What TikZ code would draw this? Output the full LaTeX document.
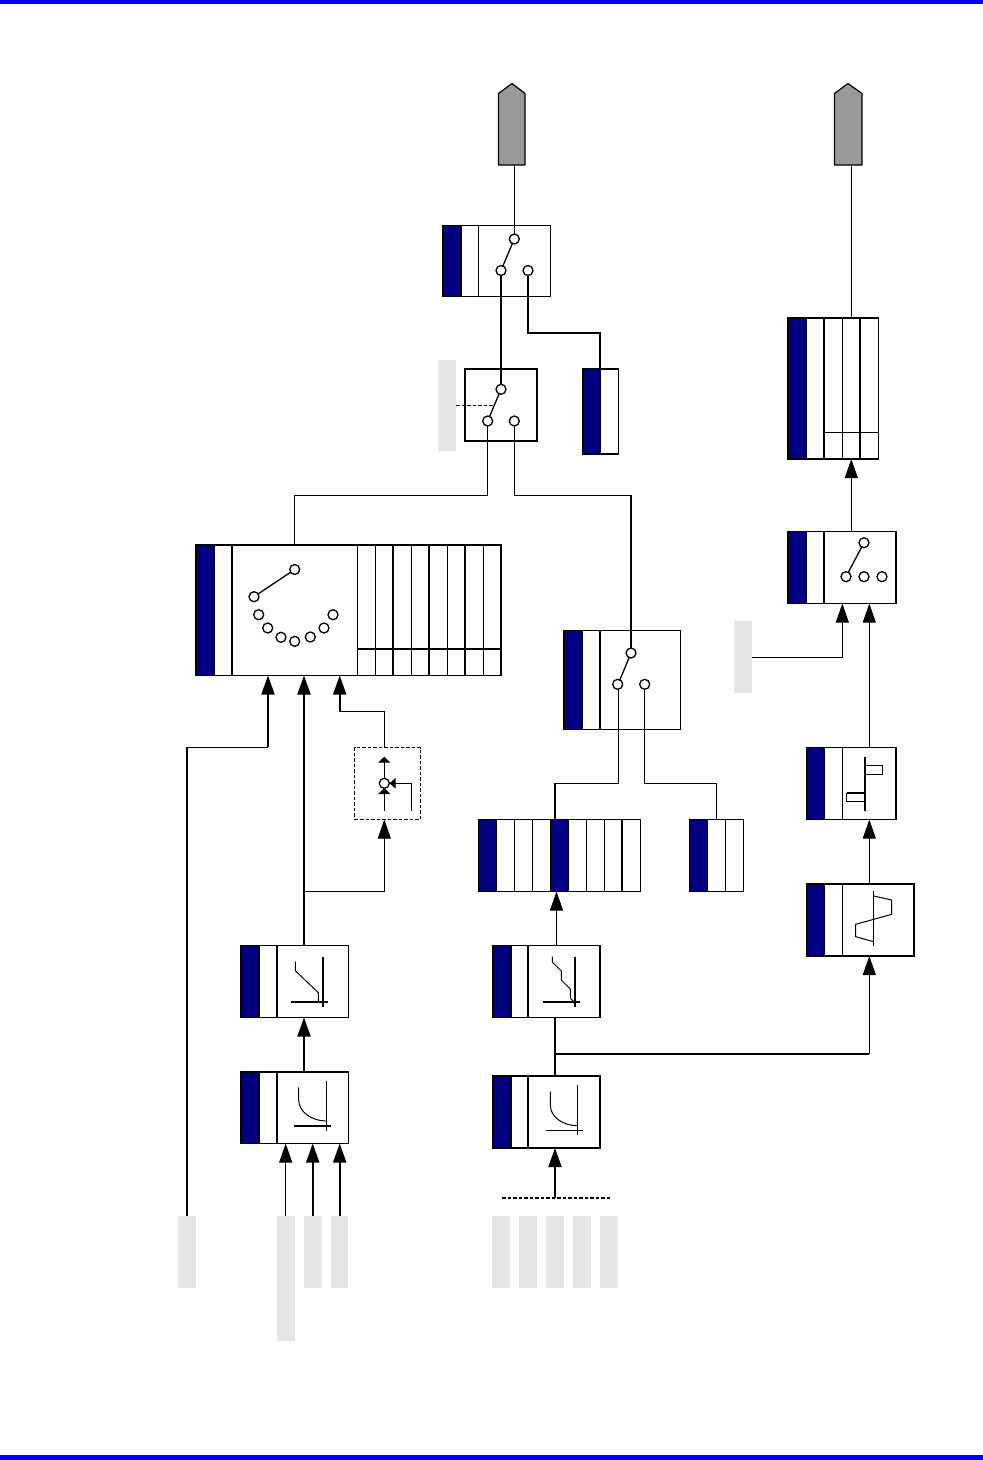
\documentclass[tikz,border=0pt]{standalone}
\usetikzlibrary{arrows.meta,calc}
\definecolor{navyb}{HTML}{000080}
\definecolor{barb}{HTML}{0000FF}
\definecolor{greyb}{HTML}{E6E6E6}
\definecolor{pent}{HTML}{999999}
\tikzset{
  thn/.style={line width=1pt,draw=black},
  med/.style={line width=1.3pt,draw=black},
  thk/.style={line width=1.9pt,draw=black},
  boxn/.style={rectangle,draw=black,line width=1.3pt,fill=white,inner sep=0pt,outer sep=0pt},
  bluen/.style={rectangle,draw=black,line width=1.3pt,fill=navyb,inner sep=0pt,outer sep=0pt},
  greyn/.style={rectangle,fill=greyb,inner sep=0pt,outer sep=0pt},
  term/.style={circle,draw=black,line width=1.3pt,fill=white,inner sep=0pt,outer sep=0pt,minimum size=10pt},
  big/.style={-{Triangle[length=19pt,width=13pt]}},
  small/.style={-{Triangle[length=6pt,width=12pt]}},
}
\newcommand{\BX}[6][boxn]{\node[#1,minimum width={(#5-#3)*1pt},minimum height={(#6-#4)*1pt}] (#2) at ({(#3+#5)/2},{(#4+#6)/2}) {};}
\newcommand{\DV}[4][thn]{\draw[#1] (#2,#3) -- (#2,#4);}
\begin{document}
\begin{tikzpicture}[x=1pt,y=-1pt]
\useasboundingbox (0,0) rectangle (983,1460);
% page bars
\fill[barb] (0,0) rectangle (983,4);
\fill[barb] (0,1455) rectangle (983,1460);
% grey input tags
\BX[greyn]{gA}{438}{360}{456}{451}
\BX[greyn]{gB}{734}{621}{752}{693}
\BX[greyn]{gC}{178}{1216}{196}{1288}
\BX[greyn]{gD}{277}{1216}{295}{1341}
\BX[greyn]{gE}{304}{1216}{322}{1288}
\BX[greyn]{gF}{331}{1216}{348}{1288}
\BX[greyn]{gG}{492}{1216}{510}{1288}
\BX[greyn]{gH}{519}{1216}{537}{1288}
\BX[greyn]{gI}{546}{1216}{564}{1288}
\BX[greyn]{gJ}{573}{1216}{591}{1288}
\BX[greyn]{gK}{600}{1216}{618}{1288}
% pentagons
\draw[line width=1.2pt,fill=pent,line join=round] (498.5,93.5) -- (512,83.5) -- (525,93.5) -- (525,165) -- (498.5,165) -- cycle;
\draw[line width=1.2pt,fill=pent,line join=round] (834.5,93.5) -- (848,83.5) -- (862,93.5) -- (862,165) -- (834.5,165) -- cycle;
\coordinate (pA) at (512,165);
\coordinate (pB) at (848,165);
% boxes
\BX{swA}{443}{225.5}{550.5}{296.5}
\BX[bluen]{swAb}{443}{225.5}{461}{296.5}
\DV{478.7}{225.5}{296.5}
\BX{swB}{465}{369}{537}{441}
\BX{stA}{583}{369}{618.5}{454}
\BX[bluen]{stAb}{583}{369}{600}{454}
\BX{bigB}{196}{545}{501}{675.5}
\BX[bluen]{bigBb}{196}{545}{214.5}{675.5}
\DV[thk]{232}{545}{675.5}
\DV{357.3}{545}{675.5}
\DV{375.3}{545}{675.5}
\DV[thk]{393.3}{545}{675.5}
\DV{411.5}{545}{675.5}
\DV[thk]{429.3}{545}{675.5}
\DV{447.3}{545}{675.5}
\DV[thk]{465.3}{545}{675.5}
\DV{483.3}{545}{675.5}
\draw[thk] (357.3,648.7) -- (501,648.7);
\BX{swC}{564}{630.5}{680.5}{729.5}
\BX[bluen]{swCb}{564}{630.5}{582.5}{729.5}
\DV[thk]{599.7}{630.5}{729.5}
\BX{rowA}{478.5}{819.5}{640.5}{891.5}
\BX[bluen]{rowAb}{478.5}{819.5}{496.5}{891.5}
\DV{514.7}{819.5}{891.5}
\DV{532.7}{819.5}{891.5}
\BX[bluen]{rowAc}{550.7}{819.5}{568.7}{891.5}
\DV{586.7}{819.5}{891.5}
\DV{604.7}{819.5}{891.5}
\DV[thk]{622.3}{819.5}{891.5}
\BX{rowB}{689.5}{819.5}{743.5}{891.5}
\BX[bluen]{rowBb}{689.5}{819.5}{707.5}{891.5}
\DV{725.7}{819.5}{891.5}
\BX{tabB}{788}{318}{878.5}{459}
\BX[bluen]{tabBb}{788}{318}{806.5}{459}
\DV[thk]{824}{318}{459}
\DV{842.3}{318}{459}
\DV[thk]{860}{318}{459}
\draw[thn] (824,432.3) -- (878.5,432.3);
\BX{swD}{788}{531.5}{896}{603.5}
\BX[bluen]{swDb}{788}{531.5}{806.5}{603.5}
\DV[thk]{824}{531.5}{603.5}
\BX{hyA}{806.5}{747.5}{896}{819.5}
\BX[bluen]{hyAb}{806.5}{747.5}{824.5}{819.5}
\DV{842.3}{747.5}{819.5}
\BX{hyB}{806.5}{884}{914}{956}
\BX[bluen]{hyBb}{806.5}{884}{824.5}{956}
\DV{842.3}{884}{956}
\BX{crA}{241}{945.5}{348.5}{1017.5}
\BX[bluen]{crAb}{241}{945.5}{259}{1017.5}
\DV[thk]{277}{945.5}{1017.5}
\BX{crB}{241}{1072}{348.5}{1143.5}
\BX[bluen]{crBb}{241}{1072}{259}{1143.5}
\DV[thk]{277}{1072}{1143.5}
\BX{crC}{493}{945.5}{600}{1017.5}
\BX[bluen]{crCb}{493}{945.5}{511}{1017.5}
\DV[thk]{527.7}{945.5}{1017.5}
\BX{crD}{493}{1076}{600}{1148}
\BX[bluen]{crDb}{493}{1076}{511}{1148}
\DV[thk]{527.7}{1076}{1148}
\BX[rectangle,draw=black,line width=1.1pt,dash pattern=on 3.5pt off 2pt,fill=white,inner sep=0pt,outer sep=0pt]{dsh}{354.7}{747.5}{420.5}{819.5}
% connectors (under the terminals)
\coordinate (swAt) at (514.3,239);
\coordinate (swAl) at (501,270.5);
\coordinate (swAr) at (528,270.5);
\coordinate (swBt) at (501,389.3);
\coordinate (swBl) at (487.7,421);
\coordinate (swBr) at (514.3,421);
\coordinate (swCt) at (631,653);
\coordinate (swCl) at (618,684.3);
\coordinate (swCr) at (644.7,684.3);
\coordinate (swDt) at (864,542.7);
\coordinate (swDl) at (846,576.7);
\coordinate (swDm) at (864,576.7);
\coordinate (swDr) at (882,576.7);
\coordinate (bgT) at (294.7,569.5);
\coordinate (bgA) at (254,596.7);
\coordinate (dsc) at (384.3,783.3);
\coordinate (busA) at (304,891);
\coordinate (busB) at (555,1054);
\coordinate (busC) at (555,1197.7);
\draw[thn] (swAt |- pA) -- (swAt);
\draw[thk] (swAl) -- (swBt);
\draw[thk] (swAr) |- (600,333) -- (stA.north -| 600,333);
\draw[thn] (swBl) |- (294.7,495) -- (bigB.north -| 294.7,495);
\draw[thn] (swBr) |- (631,495);
\draw[thk] (631,495) -- (swCt);
\draw[thn,dash pattern=on 3.5pt off 2pt] (gA.east |- 0,405) -- (494,405);
\draw[thn] (swCl) |- (555,783.3);
\draw[thk] (555,783.3) -- (rowA.north -| 555,783.3);
\draw[thn] (swCr) |- (716.7,783.3) -- (rowB.north -| 716.7,783.3);
\draw[thn] (851.3,165) -- (tabB.north -| 851.3,165);
\draw[thn,big] (swD.north -| 851.3,500) -- (tabB.south -| 851.3,500);
\draw[thk] (gC.north) -- (187,747.3);
\draw[med] (187,747.3) -- (268,747.3);
\draw[thk,big] (268,747.3) -- (bigB.south -| 268,747.3);
\draw[thk,big] (crA.north -| busA) -- (bigB.south -| busA);
\draw[thn] (dsh.north -| dsc) |- (339.7,711.7);
\draw[thk,big] (339.7,711.7) -- (bigB.south -| 339.7,711.7);
\draw[thn] (busA) -| (dsc |- 0,850);
\draw[thn,big] (dsc |- 0,891) -- (dsh.south -| dsc);
\draw[thk,big] (crB.north -| busA) -- (crA.south -| busA);
\draw[thn,big] (gD.north -| 285.7,0) -- (crB.south -| 285.7,0);
\draw[thk,big] (gE.north -| 312.7,0) -- (crB.south -| 312.7,0);
\draw[thk,big] (gF.north -| 339.7,0) -- (crB.south -| 339.7,0);
\draw[thk,big] (busC) -- (crD.south -| busC);
\draw[thk,dash pattern=on 3.5pt off 2pt] (502,1197.7) -- (610,1197.7);
\draw[thk] (crD.north -| busB) -- (crC.south -| busB);
\draw[thk] (busB) -- (869.3,1054);
\draw[thn,big] (869.3,1054) -- (hyB.south -| 869.3,1000);
\draw[thn,big] (hyB.north -| 869.3,0) -- (hyA.south -| 869.3,0);
\draw[thn,big] (hyA.north -| 869.3,0) -- (swD.south -| 869.3,0);
\draw[thn] (gB.east |- 0,657) -| (842.3,620);
\draw[thn,big] (842.3,657) -- (swD.south -| 842.3,0);
\draw[thn,big] (crC.north -| 556.5,0) -- (rowA.south -| 556.5,0);
% switch arms
\draw[med] (swAt) -- (swAl);
\draw[med] (swBt) -- (swBl);
\draw[med] (swCt) -- (swCl);
\draw[med] (swDt) -- (swDl);
\draw[med] (bgT) -- (bgA);
% dashed-box internals
\draw[thn,small] (dsc) -- (384.3,756.7);
\draw[thn,small] (384.3,811) -- (384.3,788);
\draw[thn] (411.3,811) |- (395,783.3);
\draw[fill=black,draw=none] (389.5,783.3) -- (395.5,778) -- (395.5,788.5) -- cycle;
% terminals
\foreach \p/\n in {514.3/239,501/270.5,528/270.5,501/389.3,487.7/421,514.3/421,631/653,617.7/684.3,644.7/684.3,864/542.7,846/576.7,864/576.7,882/576.7,294.7/569.5,254/596.7,258.7/614.7,267.7/628,281/637.3,294.7/641.3,310.3/637,324/628,333/614.7,384.3/783.3}
  \node[term] at (\p,\n) {};
% glyphs
\draw[thk] (323,956.7) -- (323,1006.7);
\draw[thk] (291,1001.7) -- (328,1001.7);
\draw[thn] (295.3,961.7) -- (295.3,970.7) -- (318.3,992.7) -- (318.3,1001.7);
\draw[thk] (575,956.7) -- (575,1006.7);
\draw[thk] (543.3,1001.7) -- (580.3,1001.7);
\draw[thn] (552.3,956.7) -- (552.3,962) -- (561.3,971) -- (561.3,980) -- (570.3,989) -- (570.3,998) -- (575,1003);
\draw[thn] (326.3,1080.7) -- (326.3,1130.7);
\draw[thk] (294,1125.7) -- (331,1125.7);
\draw[thn] (298.7,1087.3) -- (298.7,1100) .. controls (298.7,1112) and (312,1121) .. (326.3,1121);
\draw[thn] (577.7,1085) -- (577.7,1135);
\draw[thn] (545.7,1130.3) -- (582.7,1130.3);
\draw[thn] (550.3,1091.7) -- (550.3,1105) .. controls (550.3,1117) and (563,1125.7) .. (577.7,1125.7);
\draw[thk] (865,756.7) -- (865,810.7);
\draw[thn] (865,765.3) rectangle (882.7,774.3);
\draw[thn] (865,801.3) -- (846.7,801.3) -- (846.7,792.7);
\draw[thk] (846.7,792.7) -- (865,792.7);
\draw[thn] (873.7,891) -- (873.7,946);
\draw[thn] (873.7,896) -- (891.7,900) -- (891.7,914.3) -- (855.7,924.3) -- (855.7,936.7) -- (873.7,941.7);
\end{tikzpicture}
\end{document}
